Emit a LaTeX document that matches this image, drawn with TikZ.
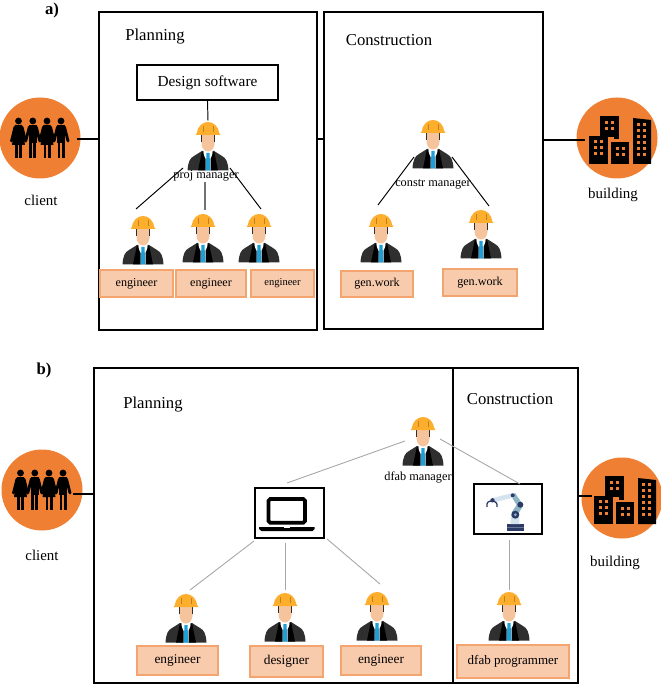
\documentclass[tikz,border=0pt]{standalone}
\usepackage{fontspec}
\setmainfont{Liberation Serif}
\def\px{0.02cm}
\definecolor{discorange}{HTML}{EE7F33}
\definecolor{tagfill}{HTML}{F8CBAD}
\definecolor{tagline}{HTML}{F4A46E}
\definecolor{hat}{HTML}{FDAE2C}
\definecolor{skin}{HTML}{F6C49C}
\definecolor{suit}{HTML}{2F2F2F}
\definecolor{tie}{HTML}{1E9FD8}
\definecolor{robotnavy}{HTML}{2B3A67}
\definecolor{robotlight}{HTML}{D5E3EE}
\definecolor{robotmid}{HTML}{8FB4C6}
\tikzset{
	frame/.style={draw, line width=0.7pt, inner sep=0pt},
	panel/.style={draw, line width=1.1pt, inner sep=0pt, fill=white},
	disc/.style={circle, fill=discorange, inner sep=0pt, minimum size=81*\px},
	tagbox/.style={draw=tagline, fill=tagfill, line width=0.6pt, inner sep=0pt, font=\fontsize{6.9}{8}\selectfont},
	title/.style={inner sep=0pt, font=\fontsize{9.5}{11}\selectfont},
	caption/.style={inner sep=0pt, font=\fontsize{8.5}{10}\selectfont},
	small/.style={inner sep=0pt, font=\fontsize{7}{8}\selectfont},
	partmark/.style={inner sep=0pt, font=\fontsize{9.5}{11}\selectfont\bfseries},
	spot/.style={inner sep=0pt, minimum width=44*\px, minimum height=50*\px},
	link/.style={line width=0.55pt},
	greylink/.style={line width=0.5pt, draw=black!35},
	% Worker with a helmet, origin at the middle of the figure
	worker/.pic={
		\fill[suit] (-20.5,24.5) .. controls (-20,16) and (-18,12) .. (-14,10) -- (-6,5) -- (6,5) -- (14,10) .. controls (18,12) and (20,16) .. (20.5,24.5) -- cycle;
		\fill[white] (-4.7,3) -- (4.7,3) -- (3,24.5) -- (-3,24.5) -- cycle;
		\fill[black] (-6,5) -- (-2.5,13) -- (-2.5,24.5) -- (-10,24.5) -- cycle;
		\fill[black] (6,5) -- (2.5,13) -- (2.5,24.5) -- (10,24.5) -- cycle;
		\fill[tie] (-1.5,7) -- (1.5,7) -- (2.3,24.5) -- (-2.3,24.5) -- cycle;
		\fill[skin] (-6.5,-12) -- (6.5,-12) -- (6.5,-2) .. controls (6,3) and (3,5.5) .. (0,5.5) .. controls (-3,5.5) and (-6,3) .. (-6.5,-2) -- cycle;
		\fill[suit] (-7.2,-12) rectangle (-6.3,-4);
		\fill[suit] (7.2,-12) rectangle (6.3,-4);
		\fill[hat] (-11,-12) .. controls (-11,-20) and (-5,-24) .. (0,-24) .. controls (5,-24) and (11,-20) .. (11,-12) -- cycle;
		\fill[hat] (-12.5,-11) -- (-10.5,-14) -- (10.5,-14) -- (12.5,-11) -- cycle;
		\fill[hat!75!black] (-5.5,-20) rectangle (-4.7,-14);
		\fill[hat!75!black] (4.7,-20) rectangle (5.5,-14);
	},
	% Four people holding hands
	people/.pic={
		\foreach \dx in {-21.5,-7.2,7,21} {
			\fill[black] (\dx,-17) circle (3.4);
			\draw[black, line width=1.6pt, line cap=round] (\dx-3.5,-11) -- (\dx-7,3);
			\draw[black, line width=1.6pt, line cap=round] (\dx+3.5,-11) -- (\dx+7,3);
			\fill[black] (\dx-3.5,4) rectangle (\dx-0.6,20);
			\fill[black] (\dx+0.6,4) rectangle (\dx+3.5,20);
		}
		\foreach \dx in {-21.5,7} {
			\fill[black] (\dx-3.5,-13) -- (\dx+3.5,-13) -- (\dx+6.5,7) -- (\dx-6.5,7) -- cycle;
		}
		\foreach \dx in {-7.2,21} {
			\fill[black] (\dx-4,-13) rectangle (\dx+4,5);
		}
	},
	% Three blocks and one tower
	city/.pic={
		\fill[black] (-17,-22) rectangle (1.5,-1);
		\fill[black] (-3.5,-1) rectangle (1.5,1.5);
		\fill[black] (-28,-2) rectangle (-9,26);
		\fill[black] (-6,4) rectangle (12,26);
		\fill[black] (16,-20) -- (34,-18) -- (34,26) -- (16,26) -- cycle;
		\foreach \wx in {-12,-6} \foreach \wy in {-17,-11} {
			\fill[discorange] (\wx,\wy) rectangle +(3.2,3.2);
		}
		\foreach \wx in {-23,-17} \foreach \wy in {2,8,14} {
			\fill[discorange] (\wx,\wy) rectangle +(3.2,3.2);
		}
		\foreach \wx in {-1,5} \foreach \wy in {9,15} {
			\fill[discorange] (\wx,\wy) rectangle +(3.2,3.2);
		}
		\foreach \wx in {20,26} \foreach \wy in {-15,-9,-3,3,9,15} {
			\fill[discorange] (\wx,\wy) rectangle +(3.2,3.2);
		}
	},
	laptop/.pic={
		\draw[black, line width=2.1pt, rounded corners=1pt] (-21,-14) rectangle (15.5,9.7);
		\fill[black] (-30.5,14) -- (25,14) -- (25,16) -- (23,18) -- (-28,18) -- (-30.5,16) -- cycle;
		\fill[white] (-6,14) rectangle (0,15);
	},
	robot/.pic={
		\fill[robotnavy] (-1,15) rectangle (15.5,22);
		\fill[robotnavy!70] (-1,17.5) rectangle (15.5,18.5);
		\fill[robotlight] (2.5,15) -- (11.5,15) -- (11,6) -- (3,6) -- cycle;
		\fill[robotmid] (3.5,3.5) -- (8.5,7.5) -- (15,-3) -- (10,-6) -- cycle;
		\fill[robotmid] (10,-2) -- (14.5,-5) -- (7,-16) -- (3,-13) -- cycle;
		\fill[robotlight] (4.5,-16) -- (5.5,-11.5) -- (-14.5,-6.5) -- (-15.5,-11) -- cycle;
		\fill[robotnavy] (7.3,5.7) circle (4);
		\fill[robotmid] (7.3,5.7) circle (1.5);
		\fill[robotnavy] (12.3,-4.3) circle (3);
		\fill[robotnavy] (4.7,-13.7) circle (2);
		\fill[robotnavy] (-15.5,-8.7) circle (2.2);
		\draw[robotnavy, line width=0.7pt] (-21,-2) .. controls (-22,-7) and (-19,-8) .. (-16,-8) .. controls (-13,-8) and (-10,-6) .. (-11,-2);
	}
}

\begin{document}
\begin{tikzpicture}[x=\px, y=-\px]
	\useasboundingbox (0,0) rectangle (661,685);

	% Part a: planning and construction frames
	\node[frame, minimum width=218*\px, minimum height=318*\px] (plan) at (208,171) {};
	\node[frame, minimum width=219*\px, minimum height=317*\px] (constr) at (433.5,170.5) {};
	\node[partmark] (marka) at (52,10) {a)};
	\node[title] (plantitle) at (155,37) {Planning};
	\node[title] (constrtitle) at (389,40) {Construction};

	% Client and building discs
	\node[disc] (client) at (40,138) {};
	\pic at (client) {people};
	\node[caption] (clientlabel) at (41,200) {client};
	\node[disc] (build) at (617,138) {};
	\pic at (build) {city};
	\node[caption] (buildlabel) at (613,195) {building};

	% Planning staff
	\node[panel, minimum width=141*\px, minimum height=35*\px, font=\fontsize{8.7}{10}\selectfont] (soft) at (207.5,82.5) {Design software};
	\node[spot] (pm) at (208,146) {};
	\pic at (pm) {worker};
	\node[small] (pmlabel) at (206,176) {proj manager};
	\node[spot] (e1) at (143,240) {};
	\pic at (e1) {worker};
	\node[spot] (e2) at (203,238) {};
	\pic at (e2) {worker};
	\node[spot] (e3) at (259,238) {};
	\pic at (e3) {worker};
	\node[tagbox, minimum width=73*\px, minimum height=27*\px] (t1) at (136.5,283.5) {engineer};
	\node[tagbox, minimum width=70*\px, minimum height=27*\px] (t2) at (211,283.5) {engineer};
	\node[tagbox, minimum width=63*\px, minimum height=27*\px, font=\fontsize{6}{7}\selectfont] (t3) at (282.5,283.5) {engineer};

	% Construction staff
	\node[spot] (cm) at (433,144) {};
	\pic at (cm) {worker};
	\node[small] (cmlabel) at (433,184) {constr manager};
	\node[spot] (g1) at (381,238) {};
	\pic at (g1) {worker};
	\node[spot] (g2) at (481,234) {};
	\pic at (g2) {worker};
	\node[tagbox, minimum width=72*\px, minimum height=26*\px] (t4) at (377,284) {gen.work};
	\node[tagbox, minimum width=74*\px, minimum height=27*\px] (t5) at (480,282.5) {gen.work};

	% Free ends of the part a connectors
	\coordinate (clientend) at (77,139);
	\coordinate (buildend) at (585,140);
	\coordinate (pmleft) at (183,168);
	\coordinate (pmmid) at (205,182);
	\coordinate (pmright) at (230,168);
	\coordinate (e1top) at (136,209);
	\coordinate (e2top) at (205,210);
	\coordinate (e3top) at (261,209);
	\coordinate (cmleft) at (414,157);
	\coordinate (cmright) at (452,157);
	\coordinate (g1top) at (378,205);
	\coordinate (g2top) at (489,206);

	% Part a connectors
	\draw[link, line width=0.75pt] (clientend) -- (clientend -| plan.west);
	\draw[link, line width=0.75pt] (plan.east |- clientend) -- (constr.west |- clientend);
	\draw[link, line width=0.75pt] (constr.east |- buildend) -- (buildend);
	\draw[link] (soft.south) -- (pm.north);
	\draw[link] (pmleft) -- (e1top);
	\draw[greylink, draw=black!55, line width=0.7pt] (pmmid) -- (e2top);
	\draw[link] (pmright) -- (e3top);
	\draw[link] (cmleft) -- (g1top);
	\draw[link] (cmright) -- (g2top);

	% Part b: one frame with a divider
	\node[partmark] (markb) at (44,370) {b)};
	\node[frame, minimum width=484*\px, minimum height=315*\px] (outer) at (336,525.5) {};
	\node[frame, minimum width=125*\px, minimum height=315*\px] (divide) at (515.5,525.5) {};
	\node[title] (plantitleb) at (153,405) {Planning};
	\node[title] (constrtitleb) at (510,399) {Construction};

	% Client and building discs
	\node[disc] (clientb) at (42,490) {};
	\pic at (clientb) {people};
	\node[caption] (clientlabelb) at (42,555) {client};
	\node[disc] (buildb) at (622,498) {};
	\pic at (buildb) {city};
	\node[caption] (buildlabelb) at (615,563) {building};

	% Manager with the laptop and the robot arm
	\node[spot] (dm) at (423,441) {};
	\pic at (dm) {worker};
	\node[small] (dmlabel) at (418,477) {dfab manager};
	\node[panel, minimum width=69*\px, minimum height=50*\px] (lap) at (289.5,513) {};
	\pic at (lap) {laptop};
	\node[panel, minimum width=68*\px, minimum height=50*\px] (rob) at (508,509) {};
	\pic at (rob) {robot};

	% Lower row of staff
	\node[spot] (w1) at (186,618) {};
	\pic at (w1) {worker};
	\node[spot] (w2) at (285,617) {};
	\pic at (w2) {worker};
	\node[spot] (w3) at (377,616) {};
	\pic at (w3) {worker};
	\node[spot] (w4) at (509,616) {};
	\pic at (w4) {worker};
	\node[tagbox, minimum width=81*\px, minimum height=29*\px, font=\fontsize{7.6}{9}\selectfont] (t6) at (177.5,660.5) {engineer};
	\node[tagbox, minimum width=73*\px, minimum height=31*\px, font=\fontsize{7.6}{9}\selectfont] (t7) at (286.5,661.5) {designer};
	\node[tagbox, minimum width=80*\px, minimum height=29*\px, font=\fontsize{7.6}{9}\selectfont] (t8) at (381,660.5) {engineer};
	\node[tagbox, minimum width=112*\px, minimum height=33*\px, font=\fontsize{7.4}{9}\selectfont] (t9) at (513,661.5) {dfab programmer};

	% Free ends of the part b connectors
	\coordinate (clientbend) at (73,494);
	\coordinate (buildbend) at (592,496);
	\coordinate (dmleft) at (405,441);
	\coordinate (dmright) at (440,439);
	\coordinate (lapin) at (287,483);
	\coordinate (robin) at (520,484);
	\coordinate (lapleft) at (254,541);
	\coordinate (lapmid) at (285,543);
	\coordinate (lapright) at (327,539);
	\coordinate (w1top) at (190,590);
	\coordinate (w2top) at (285,590);
	\coordinate (w3top) at (380,584);
	\coordinate (robdown) at (509,540);
	\coordinate (w4top) at (509,590);

	% Part b connectors
	\draw[link, line width=0.75pt] (clientbend) -- (clientbend -| outer.west);
	\draw[link, line width=0.75pt] (outer.east |- buildbend) -- (buildbend);
	\draw[greylink] (dmleft) -- (lapin);
	\draw[greylink] (dmright) -- (robin);
	\draw[greylink] (lapleft) -- (w1top);
	\draw[greylink] (lapmid) -- (w2top);
	\draw[greylink] (lapright) -- (w3top);
	\draw[greylink] (robdown) -- (w4top);
\end{tikzpicture}
\end{document}
